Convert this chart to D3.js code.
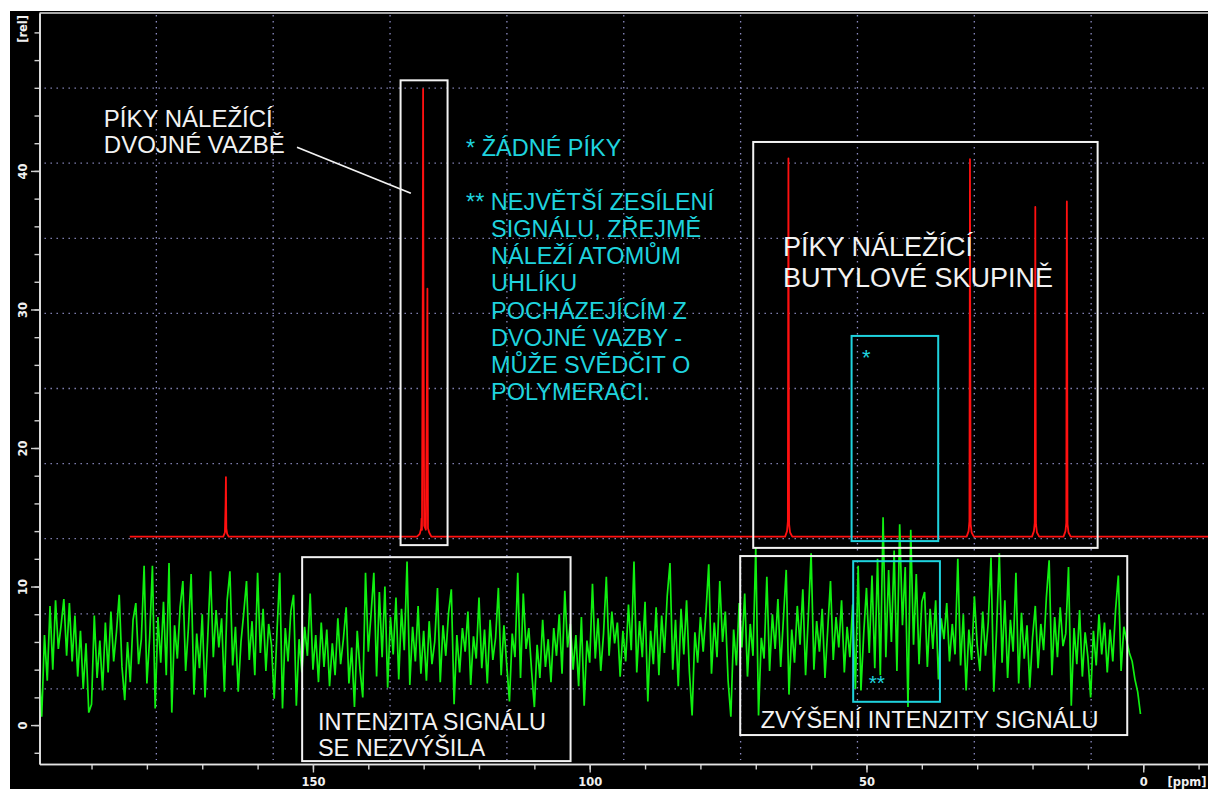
<!DOCTYPE html>
<html><head><meta charset="utf-8">
<script src="https://cdn.jsdelivr.net/npm/d3@7"></script>
<style>html,body{margin:0;padding:0;background:#fff;overflow:hidden}</style>
</head><body><svg id="c" width="1208" height="789"></svg>
<script>
// ---------------- DATA ----------------
const xTicks = [190,180,170,160,150,140,130,120,110,100,90,80,70,60,50,40,30,20,10,0,-10];
const xLabels = [150,100,50,0];
const yTicks = [-2,0,2,4,6,8,10,12,14,16,18,20,22,24,26,28,30,32,34,36,38,40,42,44,46,48,50];
const yLabels = [0,10,20,30,40];
const xUnit = "[ppm]";
const yUnit = "[rel]";

// Red (13C spectrum) trace: [ppm, intensity]
const redTrace = [
 [183.1,13.6],[172,13.6],
 [166.2,13.6],[165.9,13.9],[165.78,16.0],[165.72,17.9],[165.65,14.2],[165.5,13.8],[165.2,13.6],
 [131.2,13.6],[130.7,13.8],[130.45,14.2],[130.38,14.9],[130.3,14.1],[130.16,31.6],[130.1,45.9],[130.04,31.6],[129.9,14.4],[129.6,14.1],[129.42,24.0],[129.32,31.5],[129.22,14.2],[129.0,13.9],[128.6,13.6],
 [64.7,13.6],[64.35,14.0],[64.2,14.7],[64.14,30.6],[64.1,40.9],[64.06,30.6],[63.98,14.5],[63.8,13.9],[63.4,13.6],
 [31.9,13.6],[31.55,14.0],[31.4,14.7],[31.34,30.3],[31.3,40.85],[31.26,30.3],[31.18,14.5],[31.0,13.9],[30.6,13.6],
 [20.1,13.6],[19.75,14.0],[19.6,14.6],[19.54,26.9],[19.5,37.4],[19.46,26.9],[19.38,14.5],[19.2,13.9],[18.8,13.6],
 [14.4,13.6],[14.05,14.0],[13.9,14.6],[13.84,31.8],[13.8,37.8],[13.76,31.8],[13.68,14.5],[13.5,13.9],[13.1,13.6],
 [-12,13.6]
];

// Green (noise) trace: intensity every 0.5 ppm from 199.5 ppm downwards
const greenStartPpm = 199.5;
const greenStepPpm = 0.5;
const greenValues = [
 4.3,0.6,6.5,3.2,8.6,4.0,9.0,5.5,7.2,9.1,5.0,8.8,4.6,7.9,3.5,6.8,2.6,5.9,0.9,1.5,
 7.9,3.4,6.1,2.5,7.4,3.8,8.2,4.6,6.7,9.4,4.2,1.8,6.0,3.1,7.6,8.8,4.4,6.2,11.5,3.0,
 6.3,11.5,1.2,7.8,4.5,8.9,3.6,11.7,0.9,7.2,4.8,8.5,10.4,3.9,7.0,10.9,2.2,6.6,4.1,8.0,
 2.0,6.4,11.1,4.9,8.3,5.6,7.7,2.4,9.0,11.1,4.3,7.1,2.4,6.0,8.1,10.4,4.7,7.5,3.6,11.0,
 5.2,8.4,3.9,7.3,5.8,1.9,6.7,11.0,1.2,7.0,4.6,8.2,9.4,1.4,6.2,3.8,7.1,5.0,9.5,4.0,
 6.5,3.1,7.4,4.2,6.9,2.8,5.9,3.6,7.7,4.4,6.2,8.5,3.0,5.6,1.3,6.8,4.0,2.0,11.0,5.3,
 8.0,11.0,3.5,9.6,4.9,10.0,2.7,7.8,5.1,9.2,3.3,8.4,5.4,11.8,2.9,7.1,4.6,8.6,3.7,6.8,
 3.2,7.5,4.4,6.0,9.9,3.1,7.2,5.0,8.1,9.8,1.5,6.5,3.8,7.0,5.3,8.2,2.9,6.4,4.8,9.2,
 4.1,6.9,3.0,7.6,4.7,6.3,9.9,3.6,7.2,4.4,1.7,6.6,4.9,11.0,3.4,9.5,5.5,7.0,3.9,1.3,
 5.8,3.4,7.6,4.2,6.2,3.1,7.0,5.0,8.0,3.7,9.7,5.6,7.3,4.0,6.5,2.8,7.8,1.4,6.1,4.5,
 10.2,4.8,7.7,3.9,6.6,10.7,5.0,8.2,5.9,7.4,3.5,6.8,4.6,8.7,5.4,11.8,3.8,7.5,4.9,8.9,
 1.7,6.8,4.4,8.5,3.6,7.9,5.2,9.3,11.7,4.0,7.6,2.8,8.4,5.1,9.0,3.9,0.7,6.7,4.5,7.8,
 5.3,8.1,11.6,3.7,7.4,4.9,10.4,6.0,8.2,3.2,0.6,6.9,4.3,8.8,5.6,9.5,3.5,7.3,5.0,12.8,
 0.7,6.3,4.8,10.7,3.9,8.0,5.5,9.1,4.2,7.7,11.2,2.2,6.9,4.5,8.6,5.8,9.8,3.6,7.9,12.4,
 4.0,7.5,5.3,8.4,3.4,6.9,10.4,4.7,7.8,5.6,9.0,3.8,7.1,4.9,8.7,2.6,11.5,2.5,6.6,9.9,
 5.2,10.8,4.1,12.0,3.6,15.0,4.9,11.2,6.0,12.6,3.9,14.5,7.2,11.4,1.3,14.1,5.8,10.9,4.4,8.9,
 9.6,4.2,8.4,5.5,9.0,3.3,7.7,6.2,8.8,4.6,7.3,5.1,12.0,4.3,8.0,2.5,6.9,4.7,9.3,5.8,
 3.9,8.2,5.0,7.4,12.1,2.4,6.8,12.4,4.5,9.0,3.4,7.6,5.3,11.0,3.0,8.1,4.8,7.2,2.7,6.3,
 8.6,4.1,7.3,5.4,9.2,11.9,3.6,7.8,4.9,8.5,5.7,6.6,11.4,1.4,7.0,4.4,8.3,3.5,6.7,4.9,
 2.0,6.8,4.3,8.0,5.1,7.4,3.8,6.9,4.6,8.3,10.8,3.9,7.1,6.1,5.2,4.6,3.3,2.4,0.8
];

// Annotation texts
const noteDoubleBond = ["PÍKY NÁLEŽÍCÍ","DVOJNÉ VAZBĚ"];
const noteNoPeaks = ["* ŽÁDNÉ PÍKY"];
const noteGain = ["** NEJVĚTŠÍ ZESÍLENÍ","SIGNÁLU, ZŘEJMĚ","NÁLEŽÍ ATOMŮM","UHLÍKU","POCHÁZEJÍCÍM Z","DVOJNÉ VAZBY -","MŮŽE SVĚDČIT O","POLYMERACI."];
const noteButyl = ["PÍKY NÁLEŽÍCÍ","BUTYLOVÉ SKUPINĚ"];
const noteNoRise = ["INTENZITA SIGNÁLU","SE NEZVÝŠILA"];
const noteRise = ["ZVÝŠENÍ INTENZITY SIGNÁLU"];
const starOne = "*", starTwo = "**";

// ---------------- DRAW ----------------
const W = 1208, H = 789;
const svg = d3.select("#c");
svg.append("rect").attr("x",10).attr("y",11).attr("width",W-10).attr("height",H-11).attr("fill","#000");

const m = {l:39.5, t:13, r:1208, b:764};
const x = d3.scaleLinear().domain([199.4,-11.7]).range([m.l,m.r]);
const y = d3.scaleLinear().domain([-2.81,51.4]).range([m.b,m.t]);

// dotted grid (10 x 10 divisions of the plot area)
const grid = svg.append("g").attr("stroke","#8a8ac0").attr("stroke-width",1.3).attr("stroke-dasharray","1.4,4.6");
d3.range(1,10).forEach(i=>{
  const gx = m.l + (m.r-m.l)*i/10;
  grid.append("line").attr("x1",gx).attr("x2",gx).attr("y1",m.t+2).attr("y2",m.b-4);
  const gy = m.t + (m.b-m.t)*i/10;
  grid.append("line").attr("x1",m.l+5).attr("x2",m.r).attr("y1",gy).attr("y2",gy);
});

// top frame line
svg.append("line").attr("x1",m.l).attr("x2",m.r).attr("y1",m.t).attr("y2",m.t).attr("stroke","#e0e0e0").attr("stroke-width",1.5);

const tickFont = "'DejaVu Sans', sans-serif";
function styleAxis(g){
  g.selectAll("path.domain").attr("stroke","#e4e4e4").attr("stroke-width",1.6);
  g.selectAll(".tick line").attr("stroke","#d0d0d0").attr("stroke-width",1.4);
  g.selectAll("text").attr("fill","#f0f0f0").attr("font-family",tickFont).attr("font-weight","bold").attr("font-size",11.5);
}
// Y axis
const yMinor = svg.append("g").attr("transform",`translate(${m.l},0)`)
  .call(d3.axisLeft(y).tickValues(yTicks).tickSize(5).tickSizeOuter(0).tickFormat(""));
styleAxis(yMinor);
const yMajor = svg.append("g").attr("transform",`translate(${m.l},0)`)
  .call(d3.axisLeft(y).tickValues(yLabels).tickSize(8.5).tickSizeOuter(0).tickFormat(d3.format("d")));
styleAxis(yMajor);
yMajor.selectAll(".tick text").attr("x",0).attr("dy",0).attr("text-anchor","middle")
  .attr("transform","translate(-12.5,0) rotate(-90)");
svg.append("text").text(yUnit).attr("text-anchor","middle")
  .attr("transform",`translate(${m.l-12.5},${y(50)-3.5}) rotate(-90)`)
  .attr("fill","#f0f0f0").attr("font-family",tickFont).attr("font-weight","bold").attr("font-size",11.5);

// X axis
const xMinor = svg.append("g").attr("transform",`translate(0,${m.b})`)
  .call(d3.axisBottom(x).tickValues(xTicks).tickSize(5.5).tickSizeOuter(0).tickFormat(""));
styleAxis(xMinor);
const xMajor = svg.append("g").attr("transform",`translate(0,${m.b})`)
  .call(d3.axisBottom(x).tickValues(xLabels).tickSize(8.5).tickSizeOuter(0).tickFormat(d3.format("d")));
styleAxis(xMajor);
xMajor.selectAll(".tick text").attr("y",22).attr("dy",0);
svg.append("text").text(xUnit).attr("x",m.r-1.5).attr("y",m.b+22).attr("text-anchor","end")
  .attr("fill","#f0f0f0").attr("font-family",tickFont).attr("font-weight","bold").attr("font-size",11.5);

// clip for traces
svg.append("clipPath").attr("id","clip").append("rect").attr("x",m.l+1).attr("y",m.t+1).attr("width",m.r-m.l).attr("height",m.b-m.t-2);

// red trace
const line = d3.line().x(d=>x(d[0])).y(d=>y(d[1]));
svg.append("path").datum(redTrace).attr("d",line).attr("clip-path","url(#clip)")
  .attr("fill","none").attr("stroke","#ff1010").attr("stroke-width",1.8).attr("stroke-linejoin","round");

// green trace
const greenLine = d3.line().x((d,i)=>x(greenStartPpm - i*greenStepPpm)).y(d=>y(d));
svg.append("path").datum(greenValues).attr("d",greenLine).attr("clip-path","url(#clip)")
  .attr("fill","none").attr("stroke","#10f010").attr("stroke-width",1.7).attr("stroke-linejoin","miter");

// annotation boxes (data coords: ppm left, ppm right, rel top, rel bottom)
function box(p1,p2,v1,v2,color){
  svg.append("rect").attr("x",x(p1)).attr("y",y(v1)).attr("width",x(p2)-x(p1)).attr("height",y(v2)-y(v1))
    .attr("fill","none").attr("stroke",color).attr("stroke-width",2);
}
const WHITE = "#f2f2f2", CYAN = "#1fd3de";
box(134.17,125.68,46.54,12.99,WHITE);
box(70.46,8.24,42.09,12.79,WHITE);
box(151.95,103.46,12.12,-2.6,WHITE);
box(72.81,2.89,12.2,-0.72,WHITE);
box(52.69,37.04,28.09,13.28,CYAN);
box(52.4,36.73,11.83,1.68,CYAN);

// pointer line
svg.append("line").attr("x1",x(152.88)).attr("y1",y(41.71)).attr("x2",x(132.31)).attr("y2",y(38.39))
  .attr("stroke",WHITE).attr("stroke-width",1.8);

const txtFont = "'Liberation Sans', Arial, sans-serif";
function note(lines,ppm,val,color,size,lh,indentPpm){
  const t = svg.append("text").attr("font-family",txtFont).attr("font-size",size).attr("fill",color);
  lines.forEach((s,i)=>{
    const px = (i>0 && indentPpm!==undefined) ? x(indentPpm) : x(ppm);
    t.append("tspan").attr("x",px).attr("y",y(val)+i*lh).text(s);
  });
}
note(noteDoubleBond,187.78,43.15,WHITE,24,26);
note(noteNoPeaks,122.35,41.06,CYAN,23.5,27);
note(noteGain,122.35,37.2,CYAN,23.5,27.2,117.83);
note(noteButyl,65.09,33.84,WHITE,27,31);
note(noteNoRise,149.1,-0.36,WHITE,23.5,26);
note(noteRise,69.1,-0.24,WHITE,23.5,26);
note([starOne],50.8,26.0,CYAN,22,0);
note([starTwo],49.6,2.5,CYAN,21,0);
</script>
</body></html>
